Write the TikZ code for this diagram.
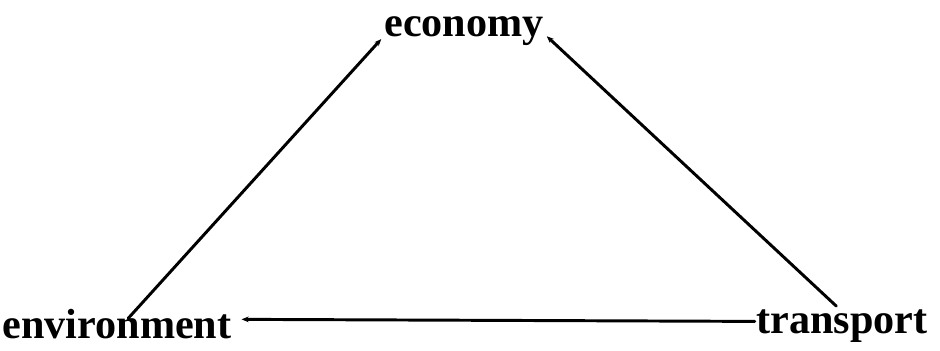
\documentclass[tikz,border=0pt]{standalone}
\usepackage{fontspec}
\setmainfont{Liberation Serif}
\usetikzlibrary{arrows.meta}

\tikzset{
  term/.style={font=\fontsize{30}{32}\selectfont\bfseries,text=black,inner sep=1pt,anchor=base},
  link/.style={black,line width=2.1pt,line cap=round},
  tip/.style={-{Stealth[length=5pt,width=4pt]}}
}

\begin{document}
\begin{tikzpicture}[x=0.025cm,y=-0.025cm]
\useasboundingbox (0,0) rectangle (940,350);

\node[term] (economy) at (464,36) {economy};
\node[term] (environment) at (117,338) {environment};
\node[term] (transport) at (842,333) {transport};

\draw[link,tip] ([xshift=8pt,yshift=-8pt]environment.north) -- ([xshift=-1pt,yshift=-6pt]economy.west);
\draw[link,tip] ([xshift=-4pt,yshift=1pt]transport.north) -- ([xshift=1pt,yshift=-4pt]economy.east);
\draw[link,tip] ([yshift=3pt]transport.west) -- ([xshift=6pt,yshift=3pt]environment.east);

\end{tikzpicture}
\end{document}
